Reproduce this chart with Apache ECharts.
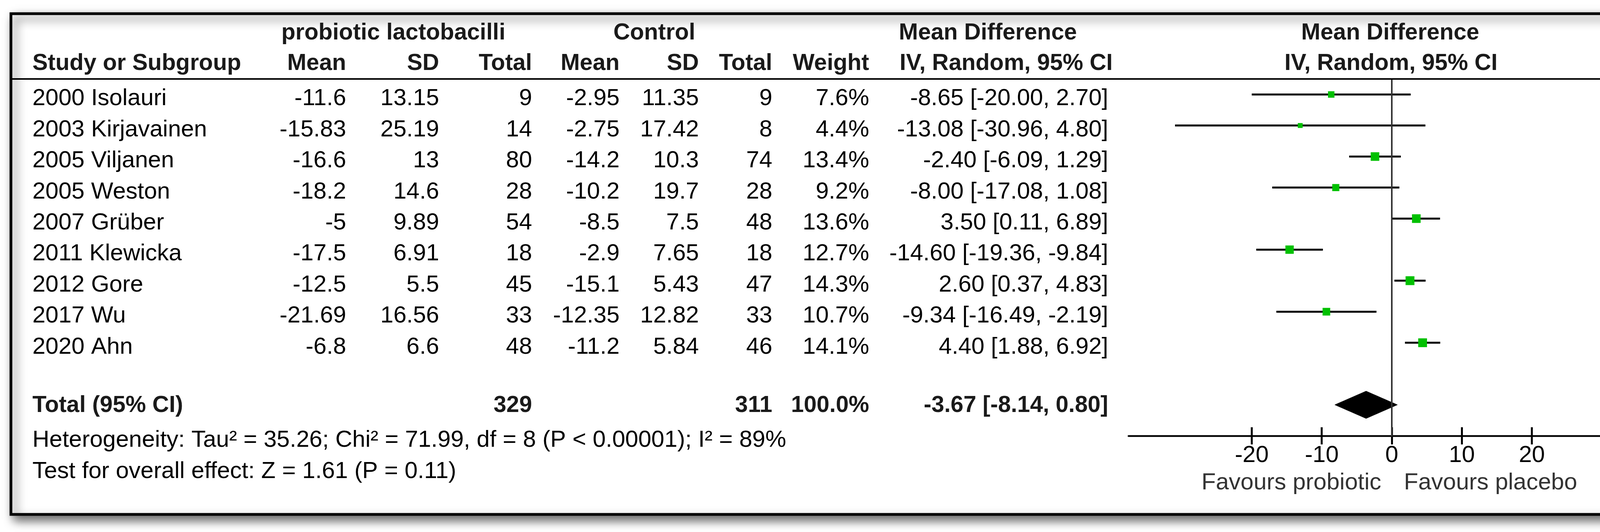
<!DOCTYPE html>
<html>
<head>
<meta charset="utf-8">
<script src="https://cdn.jsdelivr.net/npm/echarts@6/dist/echarts.min.js"></script>
<style>
html,body{margin:0;padding:0;background:#fff;}
#chart{width:4338px;height:1361px;}
</style>
</head>
<body>
<div id="chart"></div>
<script>
// ---------------- data ----------------
const studies = ['2000 Isolauri','2003 Kirjavainen','2005 Viljanen','2005 Weston','2007 Grüber','2011 Klewicka','2012 Gore','2017 Wu','2020 Ahn'];
const expMean = [-11.6,-15.83,-16.6,-18.2,-5,-17.5,-12.5,-21.69,-6.8];
const expSD = [13.15,25.19,13,14.6,9.89,6.91,5.5,16.56,6.6];
const expN = [9,14,80,28,54,18,45,33,48];
const ctrlMean = [-2.95,-2.75,-14.2,-10.2,-8.5,-2.9,-15.1,-12.35,-11.2];
const ctrlSD = [11.35,17.42,10.3,19.7,7.5,7.65,5.43,12.82,5.84];
const ctrlN = [9,8,74,28,48,18,47,33,46];
const weight = [7.6,4.4,13.4,9.2,13.6,12.7,14.3,10.7,14.1];
const md = [-8.65,-13.08,-2.40,-8.00,3.50,-14.60,2.60,-9.34,4.40];
const ciLow = [-20.00,-30.96,-6.09,-17.08,0.11,-19.36,0.37,-16.49,1.88];
const ciHigh = [2.70,4.80,1.29,1.08,6.89,-9.84,4.83,-2.19,6.92];
const totalLabel = 'Total (95% CI)';
const totalExpN = 329;
const totalCtrlN = 311;
const totalWeight = 100.0;
const totalMD = [-3.67,-8.14,0.80]; // estimate, low, high
const groupHeaders = ['probiotic lactobacilli','Control','Mean Difference','Mean Difference'];
const colHeaders = ['Study or Subgroup','Mean','SD','Total','Mean','SD','Total','Weight','IV, Random, 95% CI','IV, Random, 95% CI'];
const footnotes = ['Heterogeneity: Tau\u00B2 = 35.26; Chi\u00B2 = 71.99, df = 8 (P < 0.00001); I\u00B2 = 89%','Test for overall effect: Z = 1.61 (P = 0.11)'];
const xTicks = [-20,-10,0,10,20];
const favours = ['Favours probiotic','Favours placebo'];

// ---------------- layout ----------------
const FONT = '"Liberation Sans", Arial, Helvetica, sans-serif';
const FS = 60, FSB = 59;
const colX = [83, 886, 1124, 1362, 1586, 1789, 1977, 2225, 2837];
const colAlign = ['left','right','right','right','right','right','right','right','right'];
const totalRow = 10;

const chart = echarts.init(document.getElementById('chart'), null, {renderer:'canvas', width:4338, height:1361});

const option = {
  animation: false,
  backgroundColor: '#ffffff',
  grid: {left: 2889, right: 101, top: 202, bottom: 246},
  xAxis: [{
    type: 'value', min: -37.6, max: 37.6, position: 'bottom',
    axisLine: {show: true, onZero: false, lineStyle: {color: '#000', width: 4.5}},
    axisTick: {show: true, customValues: xTicks, length: 22, lineStyle: {color: '#000', width: 5}},
    axisLabel: {customValues: xTicks, fontSize: FS, fontFamily: FONT, color: '#000', margin: 20},
    splitLine: {show: false}
  }, {
    type: 'value', min: -37.6, max: 37.6, position: 'bottom',
    axisLine: {show: false, onZero: false},
    axisTick: {show: true, inside: true, customValues: xTicks, length: 22, lineStyle: {color: '#000', width: 5}},
    axisLabel: {show: false},
    splitLine: {show: false}
  }],
  yAxis: {
    type: 'value', min: -0.5, max: 11, inverse: true, z: 4,
    axisLine: {show: true, onZero: true, lineStyle: {color: '#333', width: 4}},
    axisTick: {show: false}, axisLabel: {show: false}, splitLine: {show: false}
  },
  series: [{
    type: 'custom', name: 'CI', z: 2, xAxisIndex: 0,
    encode: {x: [0, 1], y: 2},
    data: ciLow.map((l, i) => [l, ciHigh[i], i]),
    renderItem: function (params, api) {
      const p1 = api.coord([api.value(0), api.value(2)]);
      const p2 = api.coord([api.value(1), api.value(2)]);
      return {type: 'line', shape: {x1: p1[0], y1: p1[1], x2: p2[0], y2: p2[1]},
              style: {stroke: '#000', lineWidth: 5}};
    }
  }, {
    type: 'scatter', name: 'MD', z: 3, xAxisIndex: 0,
    symbol: 'rect',
    symbolSize: function (v) { return Math.sqrt(v[2]) * 6; },
    itemStyle: {color: '#00c000', opacity: 1},
    data: md.map((m, i) => [m, i, weight[i]])
  }, {
    type: 'custom', name: 'Total', z: 3, xAxisIndex: 0,
    encode: {x: [0, 1, 2], y: 3},
    data: [[totalMD[1], totalMD[0], totalMD[2], totalRow]],
    renderItem: function (params, api) {
      const l = api.coord([api.value(0), api.value(3)]);
      const c = api.coord([api.value(1), api.value(3)]);
      const r = api.coord([api.value(2), api.value(3)]);
      const h = 35;
      return {type: 'polygon', shape: {points: [[l[0], l[1]], [c[0], c[1] - h], [r[0], r[1]], [c[0], c[1] + h]]},
              style: {fill: '#000', stroke: '#000', lineWidth: 1}};
    }
  }]
};
chart.setOption(option);

function txt(text, x, baseline, align, bold, color, size) {
  const s = size || (bold ? FSB : FS);
  return {type: 'text', x: x, y: baseline - 0.3465 * s, z: 10, silent: true,
          style: {text: text, fontSize: s, fontFamily: FONT, fontWeight: bold ? 'bold' : 'normal',
                  fill: color || '#000', align: align, verticalAlign: 'middle'}};
}

const g = [];
// frame with drop shadow
g.push({type: 'rect', z: -1, shape: {x: 28, y: 35, width: 4267, height: 1281},
        style: {fill: '#fff', stroke: '#000', lineWidth: 7, shadowBlur: 24, shadowOffsetX: 10, shadowOffsetY: 12, shadowColor: 'rgba(0,0,0,0.6)'}});
g.push({type: 'line', z: 5, shape: {x1: 28, y1: 202, x2: 4295, y2: 202}, style: {stroke: '#000', lineWidth: 4}});

const zeroX = chart.convertToPixel({xAxisIndex: 0}, 0);
// headers
const HB = '#1a1a1a';
g.push(txt(groupHeaders[0], 1007, 105, 'center', true, HB));
g.push(txt(groupHeaders[1], 1675, 105, 'center', true, HB));
g.push(txt(groupHeaders[2], 2301, 105, 'left', true, HB));
g.push(txt(groupHeaders[3], zeroX - 4, 105, 'center', true, HB));
for (let c = 0; c < 8; c++) g.push(txt(colHeaders[c], colX[c], 183, colAlign[c], true, HB));
g.push(txt(colHeaders[8], 2303, 183, 'left', true, HB));
g.push(txt(colHeaders[9], zeroX - 2, 183, 'center', true, HB));

// study rows
const f2 = v => v.toFixed(2);
studies.forEach((s, i) => {
  const yb = chart.convertToPixel({yAxisIndex: 0}, i) + 32;
  const cells = [s, String(expMean[i]), String(expSD[i]), String(expN[i]), String(ctrlMean[i]), String(ctrlSD[i]), String(ctrlN[i]),
                 weight[i].toFixed(1) + '%', f2(md[i]) + ' [' + f2(ciLow[i]) + ', ' + f2(ciHigh[i]) + ']'];
  cells.forEach((t, c) => g.push(txt(t, colX[c], yb, colAlign[c], false, '#000')));
});

// total row
const tb = chart.convertToPixel({yAxisIndex: 0}, totalRow) + 23;
g.push(txt(totalLabel, colX[0], tb, 'left', true, HB));
g.push(txt(String(totalExpN), colX[3], tb, 'right', true, HB));
g.push(txt(String(totalCtrlN), colX[6], tb, 'right', true, HB));
g.push(txt(totalWeight.toFixed(1) + '%', colX[7], tb, 'right', true, HB));
g.push(txt(f2(totalMD[0]) + ' [' + f2(totalMD[1]) + ', ' + f2(totalMD[2]) + ']', colX[8], tb, 'right', true, HB));

// footnotes
g.push(txt(footnotes[0], colX[0], 1147, 'left', false, '#000'));
g.push(txt(footnotes[1], colX[0], 1227, 'left', false, '#000'));

// favours labels
g.push(txt(favours[0], zeroX - 27, 1256, 'right', false, '#333'));
g.push(txt(favours[1], zeroX + 31, 1256, 'left', false, '#333'));

chart.setOption({graphic: g});
</script>
</body>
</html>
